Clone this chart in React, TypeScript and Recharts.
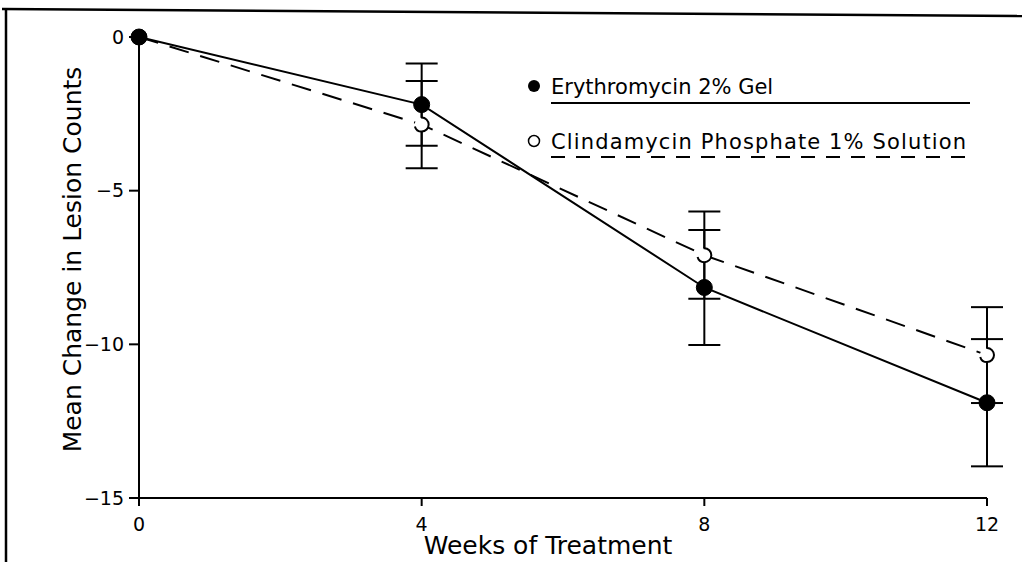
import React from 'react'
import {
  ComposedChart,
  Line,
  XAxis,
  YAxis,
  ErrorBar,
  Customized,
} from 'recharts'

const weeks = [0, 4, 8, 12]
const erythroMean = [0, -2.2, -8.15, -11.9]
const erythroErr = [0, 1.34, 1.87, 2.07]
const clindaMean = [0, -2.85, -7.1, -10.35]
const clindaErr = [0, 1.42, 1.42, 1.56]

const xTicks = [0, 4, 8, 12]
const yTicks = [0, -5, -10, -15]

const ERY_NAME = 'Erythromycin 2% Gel'
const CLI_NAME = 'Clindamycin Phosphate 1% Solution'

const FONT = '"DejaVu Sans", sans-serif'

const data = weeks.map((w, i) => ({
  week: w,
  ery: erythroMean[i],
  eryErr: erythroErr[i],
  cli: clindaMean[i],
  cliErr: clindaErr[i],
}))

// frame of the scanned page (top and left edge) + legend drawn in svg
function Frame() {
  const txt = { fontFamily: FONT, fontSize: 21, fill: '#000' }
  return (
    <g>
      <line x1={2} y1={9} x2={1022} y2={16} stroke="#000" strokeWidth={2.5} />
      <line x1={6} y1={9} x2={6} y2={562} stroke="#000" strokeWidth={2.5} />
      {/* legend */}
      <circle cx={534} cy={86} r={6} fill="#000" />
      <text x={551} y={94} {...txt}>{ERY_NAME}</text>
      <line x1={551} y1={103} x2={970} y2={103} stroke="#000" strokeWidth={2} />
      <circle cx={534} cy={141} r={5.5} fill="#fff" stroke="#000" strokeWidth={1.5} />
      <text x={551} y={149} {...txt} textLength={415}>{CLI_NAME}</text>
      <line x1={551} y1={157} x2={970} y2={157} stroke="#000" strokeWidth={2} strokeDasharray="14 11" />
    </g>
  )
}

export default function App() {
  return (
    <div style={{ position: 'fixed', left: 0, top: 0, width: 1027, height: 562, background: '#fff' }}>
      <ComposedChart
        width={1027}
        height={562}
        data={data}
        margin={{ top: 37, right: 40, left: 59, bottom: 0 }}
      >
        <XAxis
          dataKey="week"
          type="number"
          domain={[0, 12]}
          ticks={xTicks}
          height={64}
          stroke="#000"
          strokeWidth={2}
          tickSize={8}
          tickMargin={12}
          tick={{ fill: '#000', fontSize: 19, fontFamily: FONT }}
          label={{
            value: 'Weeks of Treatment',
            position: 'insideBottom',
            offset: 8,
            dx: -15,
            style: { fill: '#000', fontSize: 25, fontFamily: FONT },
          }}
        />
        <YAxis
          type="number"
          domain={[-15, 0]}
          ticks={yTicks}
          width={80}
          stroke="#000"
          strokeWidth={2}
          tickSize={10}
          tickMargin={5}
          tickFormatter={(v: number) => (v < 0 ? '\u2212' + Math.abs(v) : String(v))}
          tick={{ fill: '#000', fontSize: 19, fontFamily: FONT }}
          label={{
            value: 'Mean Change in Lesion Counts',
            angle: -90,
            position: 'insideLeft',
            dx: 8,
            dy: -8,
            style: { textAnchor: 'middle', fill: '#000', fontSize: 25, fontFamily: FONT },
          }}
        />
        <Line
          dataKey="cli"
          name={CLI_NAME}
          stroke="#000"
          strokeWidth={2}
          strokeDasharray="20 12"
          dot={{ r: 7, fill: '#fff', stroke: '#000', strokeWidth: 2 }}
          isAnimationActive={false}
        >
          <ErrorBar dataKey="cliErr" width={16} stroke="#000" strokeWidth={2} direction="y" />
        </Line>
        <Line
          dataKey="ery"
          name={ERY_NAME}
          stroke="#000"
          strokeWidth={2}
          dot={{ r: 8, fill: '#000', stroke: '#000', strokeWidth: 1 }}
          isAnimationActive={false}
        >
          <ErrorBar dataKey="eryErr" width={16} stroke="#000" strokeWidth={2} direction="y" />
        </Line>
        <Customized component={Frame} />
      </ComposedChart>
    </div>
  )
}
